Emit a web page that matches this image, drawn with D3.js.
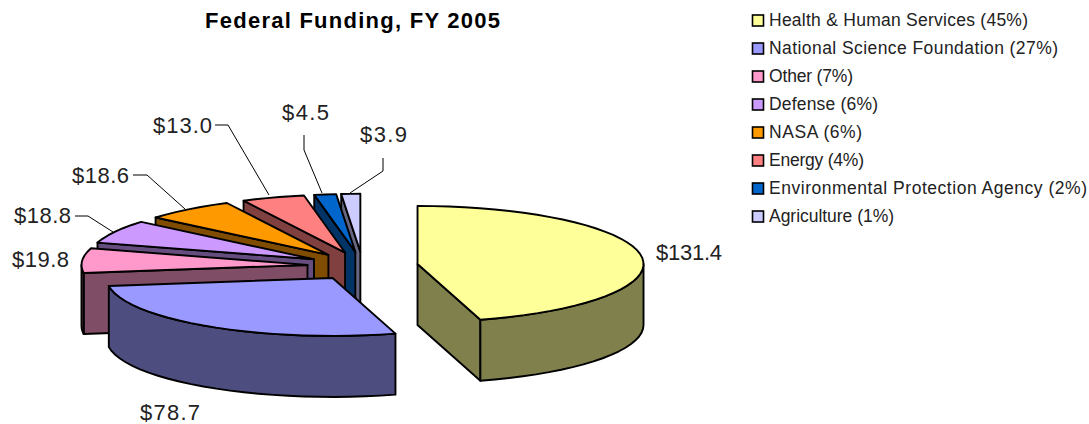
<!DOCTYPE html>
<html>
<head>
<meta charset="utf-8">
<script src="https://cdn.jsdelivr.net/npm/d3@7/dist/d3.min.js"></script>
<style>
html,body{margin:0;padding:0;background:#fff;}
svg{display:block;}
text{font-family:"Liberation Sans",Arial,sans-serif;fill:#000;}
</style>
</head>
<body>
<svg id="chart" width="1089" height="424"></svg>
<script>
// ---- data ----
const categories = ["Health & Human Services","National Science Foundation","Other","Defense","NASA","Energy","Environmental Protection Agency","Agriculture"];
const funding = [131.4,78.7,19.8,18.8,18.6,13.0,4.5,3.9];
const valueLabels = ["$131.4","$78.7","$19.8","$18.8","$18.6","$13.0","$4.5","$3.9"];
const percents = ["45%","27%","7%","6%","6%","4%","2%","1%"];
const topColors = ["#FFFF99","#9999FF","#FF99CC","#CC99FF","#FF9900","#FF8080","#0066CC","#CCCCFF"];
const wallColors = ["#80804D","#4D4D80","#804D66","#664D80","#804D00","#804040","#003366","#666680"];
const chartTitle = "Federal Funding, FY 2005";

// ---- layout ----
const W = 1089, H = 424;
const cx = 362.7, cy = 266, rx = 226, ry = 58, depth = 61, explode = 0.245;
const labelAt = [[656,260],[140,420],[12,267],[14,223],[72,183],[153,133],[282,120],[360,142]];
const labelW = [66,60,57,57,57,59,47,47];
const leaders = [null,null,null,
  [[75,216],[88,216],[113,232]],
  [[133,175],[147,175],[185,209]],
  [[215,125],[228,125],[269,195]],
  [[304,135],[304,150],[322,193]],
  [[383,158],[383,171],[350,193]]];
const legendWidths = [259,289,84,109,93,95,318,125];

const svg = d3.select("#chart");
const sx = d3.scaleLinear().domain([-1,1]).range([cx-rx,cx+rx]);
const sy = d3.scaleLinear().domain([-1,1]).range([cy-ry,cy+ry]);
const line = d3.line();

const pie = d3.pie().sort(null).startAngle(0).endAngle(2*Math.PI);
const arcs = pie(funding);

function rimPts(a0,a1,ox,oy,dz){
  const n = Math.max(1,Math.ceil((a1-a0)/(4*Math.PI/180)));
  return d3.range(n+1).map(i=>{
    const a = a0+(a1-a0)*i/n;
    return [sx(Math.sin(a)+ox), sy(-Math.cos(a)+oy)+dz];
  });
}

// back to front painter's order
const order = [7,6,5,4,3,2,1,0];
const pies = svg.append("g");
order.forEach(i=>{
  const d = arcs[i];
  const mid = (d.startAngle+d.endAngle)/2;
  const ox = explode*Math.sin(mid), oy = -explode*Math.cos(mid);
  const g = pies.append("g");
  const apex = [sx(ox), sy(oy)];
  const style = sel => sel.attr("stroke","#000").attr("stroke-width",1.9).attr("stroke-linejoin","round");
  const wall = a => {
    const p = [sx(Math.sin(a)+ox), sy(-Math.cos(a)+oy)];
    return line([apex,p,[p[0],p[1]+depth],[apex[0],apex[1]+depth]])+"Z";
  };
  // radial walls that face the viewer
  if (d.startAngle>=Math.PI) g.append("path").attr("d",wall(d.startAngle)).attr("fill",wallColors[i]).call(style);
  if (d.endAngle<=Math.PI)  g.append("path").attr("d",wall(d.endAngle)).attr("fill",wallColors[i]).call(style);
  // outer rim on the near half
  const r0 = Math.max(d.startAngle,Math.PI/2), r1 = Math.min(d.endAngle,3*Math.PI/2);
  if (r1>r0){
    const top = rimPts(r0,r1,ox,oy,0), bot = rimPts(r0,r1,ox,oy,depth).reverse();
    g.append("path").attr("d",line(top.concat(bot))+"Z").attr("fill",wallColors[i]).call(style);
  }
  // top face
  g.append("path").attr("d",line([apex].concat(rimPts(d.startAngle,d.endAngle,ox,oy,0)))+"Z")
    .attr("fill",topColors[i]).call(style);
});

// leader lines
svg.append("g").selectAll("path").data(leaders.filter(Boolean)).join("path")
  .attr("d",d=>line(d)).attr("fill","none").attr("stroke","#000").attr("stroke-width",1);

// value labels
svg.append("g").selectAll("text").data(valueLabels).join("text")
  .attr("x",(d,i)=>labelAt[i][0]).attr("y",(d,i)=>labelAt[i][1])
  .attr("font-size",22).style("fill","#222")
  .attr("textLength",(d,i)=>labelW[i]).attr("lengthAdjust","spacing")
  .text(d=>d);

// title
svg.append("text").attr("x",205).attr("y",28)
  .attr("font-size",22).attr("font-weight","bold")
  .attr("textLength",295).attr("lengthAdjust","spacing")
  .text(chartTitle);

// legend
const rowY = d3.scalePoint().domain(categories).range([20.5,216.5]);
const lg = svg.append("g").selectAll("g").data(categories).join("g")
  .attr("transform",d=>`translate(0,${rowY(d)})`);
lg.append("rect").attr("x",752.5).attr("y",-5.5).attr("width",11).attr("height",11)
  .attr("fill",(d,i)=>topColors[i]).attr("stroke","#000").attr("stroke-width",1.6);
lg.append("text").attr("x",769).attr("y",5.5).attr("font-size",17.5).style("fill","#222")
  .attr("textLength",(d,i)=>legendWidths[i]).attr("lengthAdjust","spacing")
  .text((d,i)=>`${d} (${percents[i]})`);
</script>
</body>
</html>
